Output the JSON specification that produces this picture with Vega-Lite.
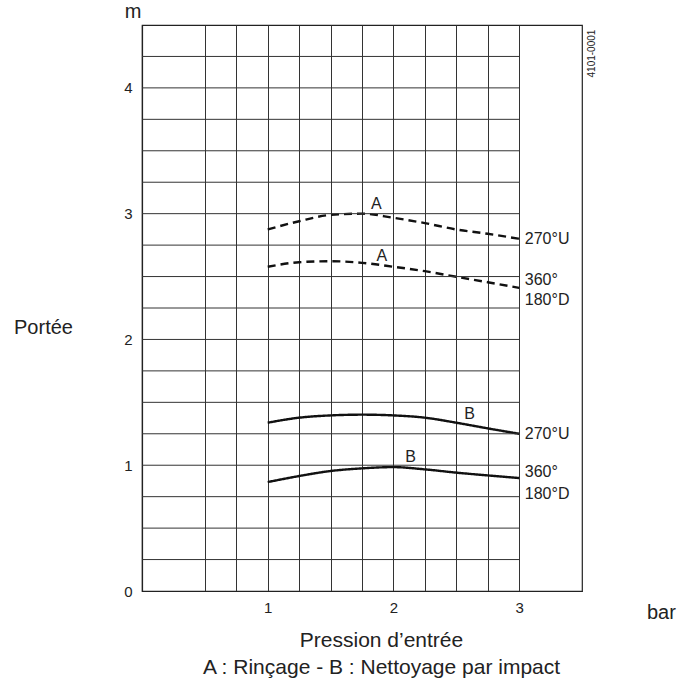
{
  "$schema": "https://vega.github.io/schema/vega-lite/v6.json",
  "width": 440,
  "height": 566,
  "autosize": {"type": "none"},
  "padding": {"left": 142, "top": 25, "right": 112, "bottom": 91},
  "background": "white",
  "config": {
    "font": "Liberation Sans",
    "view": {"stroke": "#222", "strokeWidth": 1.2},
    "text": {"font": "Liberation Sans", "color": "#222"}
  },
  "datasets": {
    "curves": [
      {"curve": "A 270°U", "kind": "A", "x": 1, "y": 2.874},
      {"curve": "A 270°U", "kind": "A", "x": 1.25, "y": 2.94},
      {"curve": "A 270°U", "kind": "A", "x": 1.5, "y": 2.99},
      {"curve": "A 270°U", "kind": "A", "x": 1.75, "y": 3.0},
      {"curve": "A 270°U", "kind": "A", "x": 2, "y": 2.967},
      {"curve": "A 270°U", "kind": "A", "x": 2.25, "y": 2.925},
      {"curve": "A 270°U", "kind": "A", "x": 2.5, "y": 2.874},
      {"curve": "A 270°U", "kind": "A", "x": 2.75, "y": 2.84},
      {"curve": "A 270°U", "kind": "A", "x": 3, "y": 2.8},
      {"curve": "A 360°", "kind": "A", "x": 1, "y": 2.578},
      {"curve": "A 360°", "kind": "A", "x": 1.25, "y": 2.614},
      {"curve": "A 360°", "kind": "A", "x": 1.5, "y": 2.622},
      {"curve": "A 360°", "kind": "A", "x": 1.75, "y": 2.609},
      {"curve": "A 360°", "kind": "A", "x": 2, "y": 2.578},
      {"curve": "A 360°", "kind": "A", "x": 2.25, "y": 2.543},
      {"curve": "A 360°", "kind": "A", "x": 2.5, "y": 2.498},
      {"curve": "A 360°", "kind": "A", "x": 2.75, "y": 2.455},
      {"curve": "A 360°", "kind": "A", "x": 3, "y": 2.41},
      {"curve": "B 270°U", "kind": "B", "x": 1, "y": 1.338},
      {"curve": "B 270°U", "kind": "B", "x": 1.25, "y": 1.378},
      {"curve": "B 270°U", "kind": "B", "x": 1.5, "y": 1.396},
      {"curve": "B 270°U", "kind": "B", "x": 1.75, "y": 1.402},
      {"curve": "B 270°U", "kind": "B", "x": 2, "y": 1.396},
      {"curve": "B 270°U", "kind": "B", "x": 2.25, "y": 1.378},
      {"curve": "B 270°U", "kind": "B", "x": 2.5, "y": 1.338},
      {"curve": "B 270°U", "kind": "B", "x": 2.75, "y": 1.293},
      {"curve": "B 270°U", "kind": "B", "x": 3, "y": 1.25},
      {"curve": "B 360°", "kind": "B", "x": 1, "y": 0.866},
      {"curve": "B 360°", "kind": "B", "x": 1.25, "y": 0.914},
      {"curve": "B 360°", "kind": "B", "x": 1.5, "y": 0.954},
      {"curve": "B 360°", "kind": "B", "x": 1.75, "y": 0.975},
      {"curve": "B 360°", "kind": "B", "x": 2, "y": 0.985},
      {"curve": "B 360°", "kind": "B", "x": 2.25, "y": 0.967},
      {"curve": "B 360°", "kind": "B", "x": 2.5, "y": 0.941},
      {"curve": "B 360°", "kind": "B", "x": 2.75, "y": 0.919},
      {"curve": "B 360°", "kind": "B", "x": 3, "y": 0.898}
    ],
    "hgrid": [
      {"y": 0.25}, {"y": 0.5}, {"y": 0.75}, {"y": 1}, {"y": 1.25}, {"y": 1.5},
      {"y": 1.75}, {"y": 2}, {"y": 2.25}, {"y": 2.5}, {"y": 2.75}, {"y": 3},
      {"y": 3.25}, {"y": 3.5}, {"y": 3.75}, {"y": 4}, {"y": 4.25}
    ],
    "letters": [
      {"x": 1.863, "y": 3.073, "text": "A"},
      {"x": 1.908, "y": 2.667, "text": "A"},
      {"x": 2.605, "y": 1.404, "text": "B"},
      {"x": 2.136, "y": 1.065, "text": "B"}
    ],
    "endLabels": [
      {"x": 3.045, "y": 2.8, "text": "270°U"},
      {"x": 3.045, "y": 2.47, "text": "360°"},
      {"x": 3.045, "y": 2.31, "text": "180°D"},
      {"x": 3.045, "y": 1.245, "text": "270°U"},
      {"x": 3.045, "y": 0.946, "text": "360°"},
      {"x": 3.045, "y": 0.768, "text": "180°D"}
    ],
    "units": [
      {"x": -0.071, "y": 4.556, "text": "m"},
      {"x": 4.132, "y": -0.225, "text": "bar"}
    ],
    "code": [
      {"x": 3.578, "y": 4.273, "text": "4101-0001"}
    ]
  },
  "layer": [
    {
      "data": {"name": "curves"},
      "mark": {"type": "line", "color": "#111", "strokeWidth": 2.4, "interpolate": "monotone"},
      "encoding": {
        "x": {
          "field": "x", "type": "quantitative",
          "scale": {"domain": [0, 3.5], "nice": false, "zero": false},
          "axis": {
            "values": [0.5, 0.75, 1, 1.25, 1.5, 1.75, 2, 2.25, 2.5, 2.75, 3],
            "format": "~g",
            "grid": true, "gridColor": "#333", "gridWidth": 1,
            "domain": true, "domainColor": "#222", "domainWidth": 1.2,
            "ticks": false,
            "labelExpr": "datum.value == 1 || datum.value == 2 || datum.value == 3 ? datum.label : ''",
            "labelOverlap": false, "labelFlush": false,
            "labelFontSize": 15, "labelPadding": 9, "labelColor": "#222",
            "title": ["Pression d’entrée", "A : Rinçage - B : Nettoyage par impact"],
            "titleFontSize": 21, "titleFontWeight": "normal", "titleColor": "#222",
            "titleX": 239, "titleY": 55, "titleAlign": "center", "titleBaseline": "alphabetic",
            "titleLineHeight": 27, "titleAnchor": "start"
          }
        },
        "y": {
          "field": "y", "type": "quantitative",
          "scale": {"domain": [0, 4.5], "nice": false, "zero": false},
          "axis": {
            "values": [0, 1, 2, 3, 4],
            "format": "~g",
            "grid": false, "ticks": false,
            "domain": true, "domainColor": "#222", "domainWidth": 1.2,
            "labelFontSize": 15, "labelPadding": 10, "labelColor": "#222",
            "title": "Portée",
            "titleAngle": 0, "titleX": -99, "titleY": 308,
            "titleAlign": "center", "titleBaseline": "alphabetic",
            "titleFontSize": 20, "titleFontWeight": "normal", "titleColor": "#222",
            "titleAnchor": "start"
          }
        },
        "detail": {"field": "curve", "type": "nominal"},
        "strokeDash": {
          "field": "kind", "type": "nominal",
          "scale": {"domain": ["A", "B"], "range": [[8, 5], [1, 0]]},
          "legend": null
        }
      }
    },
    {
      "data": {"name": "hgrid"},
      "mark": {"type": "rule", "color": "#333", "strokeWidth": 1},
      "encoding": {
        "y": {"field": "y", "type": "quantitative"},
        "x": {"datum": 0, "type": "quantitative"},
        "x2": {"datum": 3}
      }
    },
    {
      "data": {"name": "letters"},
      "mark": {"type": "text", "fontSize": 16, "align": "center", "baseline": "middle"},
      "encoding": {
        "x": {"field": "x", "type": "quantitative"},
        "y": {"field": "y", "type": "quantitative"},
        "text": {"field": "text"}
      }
    },
    {
      "data": {"name": "endLabels"},
      "mark": {"type": "text", "fontSize": 16, "align": "left", "baseline": "middle"},
      "encoding": {
        "x": {"field": "x", "type": "quantitative"},
        "y": {"field": "y", "type": "quantitative"},
        "text": {"field": "text"}
      }
    },
    {
      "data": {"name": "units"},
      "mark": {"type": "text", "fontSize": 20, "align": "center", "baseline": "alphabetic"},
      "encoding": {
        "x": {"field": "x", "type": "quantitative"},
        "y": {"field": "y", "type": "quantitative"},
        "text": {"field": "text"}
      }
    },
    {
      "data": {"name": "code"},
      "mark": {"type": "text", "fontSize": 10, "angle": 270, "align": "center", "baseline": "middle"},
      "encoding": {
        "x": {"field": "x", "type": "quantitative"},
        "y": {"field": "y", "type": "quantitative"},
        "text": {"field": "text"}
      }
    }
  ]
}
